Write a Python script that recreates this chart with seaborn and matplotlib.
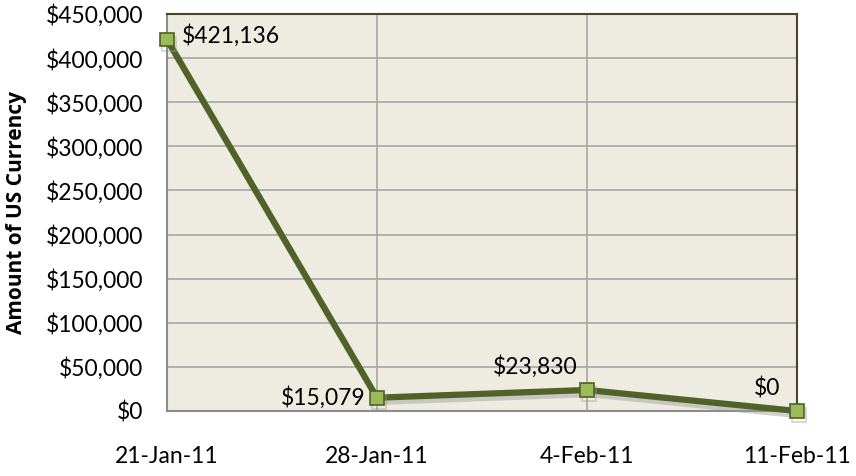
import matplotlib
matplotlib.use("Agg")
import matplotlib.pyplot as plt
import matplotlib.patheffects as pe
import seaborn as sns
import pandas as pd
from matplotlib.ticker import FuncFormatter, MultipleLocator

dates = ["21-Jan-11", "28-Jan-11", "4-Feb-11", "11-Feb-11"]
values = [421136, 15079, 23830, 0]
labels = ["$421,136", "$15,079", "$23,830", "$0"]

sns.set_theme(style="white")
plt.rcParams['font.family'] = ['Lato', 'DejaVu Sans']

df = pd.DataFrame({"pos": range(len(dates)), "value": values})

fig = plt.figure(figsize=(8.56, 4.76), dpi=100)
ax = fig.add_axes([167/856, 65/476, (797-167)/856, (411-14)/476])
ax.set_facecolor("#EEECE1")

sns.lineplot(data=df, x="pos", y="value", ax=ax, color="#4F6228", linewidth=4.5,
             marker="s", markersize=10, markerfacecolor="#9BBB59",
             markeredgecolor="#4F6228", markeredgewidth=1.2, zorder=5, clip_on=False,
             path_effects=[pe.SimpleLineShadow(offset=(1.5, -3), shadow_color="#999999", alpha=0.45), pe.Normal()])

ax.set_xlim(0, len(dates) - 1)
ax.set_ylim(0, 450000)
ax.set_xticks(range(len(dates)))
ax.set_xticklabels(dates)
ax.yaxis.set_major_locator(MultipleLocator(50000))
ax.yaxis.set_major_formatter(FuncFormatter(lambda v, p: f"${int(v):,}"))
ax.grid(True, color="#A6A6A6", linewidth=1.2)
ax.set_axisbelow(True)
ax.tick_params(axis="both", length=0, labelsize=16.5, colors="black")
ax.tick_params(axis="x", pad=25)
ax.tick_params(axis="y", pad=17)
ax.set_xlabel("")
ax.set_ylabel("Amount of US Currency", fontsize=15, fontweight="bold", color="black",
              family=["Open Sans", "DejaVu Sans"])
ax.yaxis.set_label_coords((27 - 167) / 630, 0.5)

for s in ["left", "bottom"]:
    ax.spines[s].set_color("#8C8C8C")
    ax.spines[s].set_linewidth(1.5)
for s in ["top", "right"]:
    ax.spines[s].set_color("#4A452A")
    ax.spines[s].set_linewidth(1.5)

offsets = [(11, 3, "left", "center"), (-8, 0, "right", "center"),
           (-7, 9, "right", "bottom"), (-12, 8, "right", "bottom")]
for i, (lab, v) in enumerate(zip(labels, values)):
    dx, dy, ha, va = offsets[i]
    ax.annotate(lab, (i, v), xytext=(dx, dy), textcoords="offset points",
                ha=ha, va=va, fontsize=16.5, color="black", zorder=6, annotation_clip=False)

fig.savefig("out.png", dpi=100)
